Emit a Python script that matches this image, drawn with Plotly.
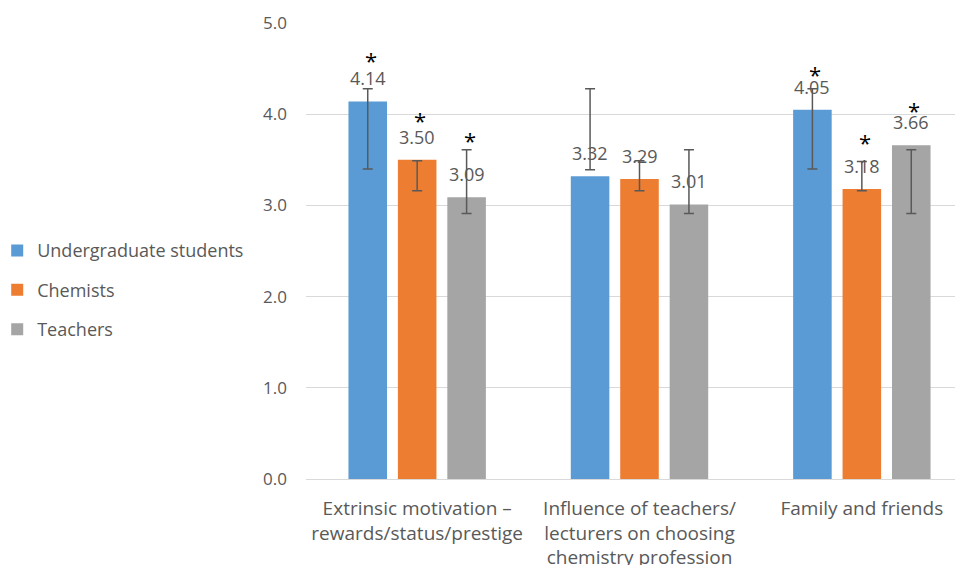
import plotly.graph_objects as go

categories = [
    "Extrinsic motivation –<br>rewards/status/prestige",
    "Influence of teachers/<br>lecturers on choosing<br>chemistry profession",
    "Family and friends",
]
series_names = ["Undergraduate students", "Chemists", "Teachers"]
undergrad = [4.14, 3.32, 4.05]
chemists = [3.50, 3.29, 3.18]
teachers = [3.09, 3.01, 3.66]

# error bar ends (low, high)
undergrad_err_low = [3.40, 3.39, 3.40]
undergrad_err_high = [4.28, 4.28, 4.28]
chemists_err_low = [3.16, 3.16, 3.16]
chemists_err_high = [3.49, 3.49, 3.48]
teachers_err_low = [2.91, 2.91, 2.91]
teachers_err_high = [3.61, 3.61, 3.61]

# significance star positions (None = no star)
undergrad_star = [4.60, None, 4.45]
chemists_star = [3.95, None, 3.71]
teachers_star = [3.73, None, 4.06]

colors = ["#5B9BD5", "#ED7D31", "#A5A5A5"]
values = [undergrad, chemists, teachers]
lows = [undergrad_err_low, chemists_err_low, teachers_err_low]
highs = [undergrad_err_high, chemists_err_high, teachers_err_high]
stars = [undergrad_star, chemists_star, teachers_star]

FONT = "Open Sans"
TXT = "#595959"

fig = go.Figure()
for i, name in enumerate(series_names):
    fig.add_trace(go.Bar(
        x=categories, y=values[i], name=name, offsetgroup=str(i),
        marker=dict(color=colors[i], line=dict(width=0)),
        legendgroup=str(i),
    ))
for i, name in enumerate(series_names):
    mids = [(lo + hi) / 2 for lo, hi in zip(lows[i], highs[i])]
    halves = [(hi - lo) / 2 for lo, hi in zip(lows[i], highs[i])]
    fig.add_trace(go.Bar(
        x=categories, y=mids, offsetgroup=str(i), showlegend=False,
        marker=dict(color="rgba(0,0,0,0)", line=dict(width=0)),
        error_y=dict(type="data", array=halves, visible=True,
                     color="#595959", thickness=1.5, width=5),
        hoverinfo="skip",
    ))

slot_px = 49.5
annotations = []
for i in range(3):
    for j, cat in enumerate(categories):
        annotations.append(dict(
            x=cat, y=values[i][j], xref="x", yref="y",
            text=f"{values[i][j]:.2f}", showarrow=False,
            xshift=(i - 1) * slot_px, yshift=9, yanchor="bottom",
            font=dict(family=FONT, size=18, color=TXT),
        ))
        if stars[i][j] is not None:
            annotations.append(dict(
                x=cat, y=stars[i][j], xref="x", yref="y",
                text="*", showarrow=False,
                xshift=(i - 1) * slot_px + 3, yshift=-1, yanchor="middle",
                font=dict(family=FONT, size=22, color="#000000"),
            ))

fig.update_layout(
    width=955, height=557,
    margin=dict(l=298, r=0, t=15, b=86, autoexpand=False),
    paper_bgcolor="white", plot_bgcolor="white",
    barmode="group", bargap=0.333, bargroupgap=0.22,
    font=dict(family=FONT, size=17, color=TXT),
    showlegend=True,
    legend=dict(x=-0.47, xanchor="left", y=0.414, yanchor="middle",
                font=dict(family=FONT, size=18, color=TXT),
                tracegroupgap=13, bgcolor="rgba(0,0,0,0)"),
    annotations=annotations,
    xaxis=dict(range=[-0.5, 2.455], showgrid=False, showline=True,
               linecolor="#D9D9D9", linewidth=1, ticks="",
               tickfont=dict(family=FONT, size=19, color=TXT),
               ticklabelstandoff=12),
    yaxis=dict(range=[0, 5], dtick=1, tickformat=".1f", showgrid=True,
               gridcolor="#D9D9D9", gridwidth=1, zeroline=False,
               showline=False, ticks="",
               tickfont=dict(family=FONT, size=17, color=TXT),
               ticklabelstandoff=18),
)

fig.write_html("out.html")
